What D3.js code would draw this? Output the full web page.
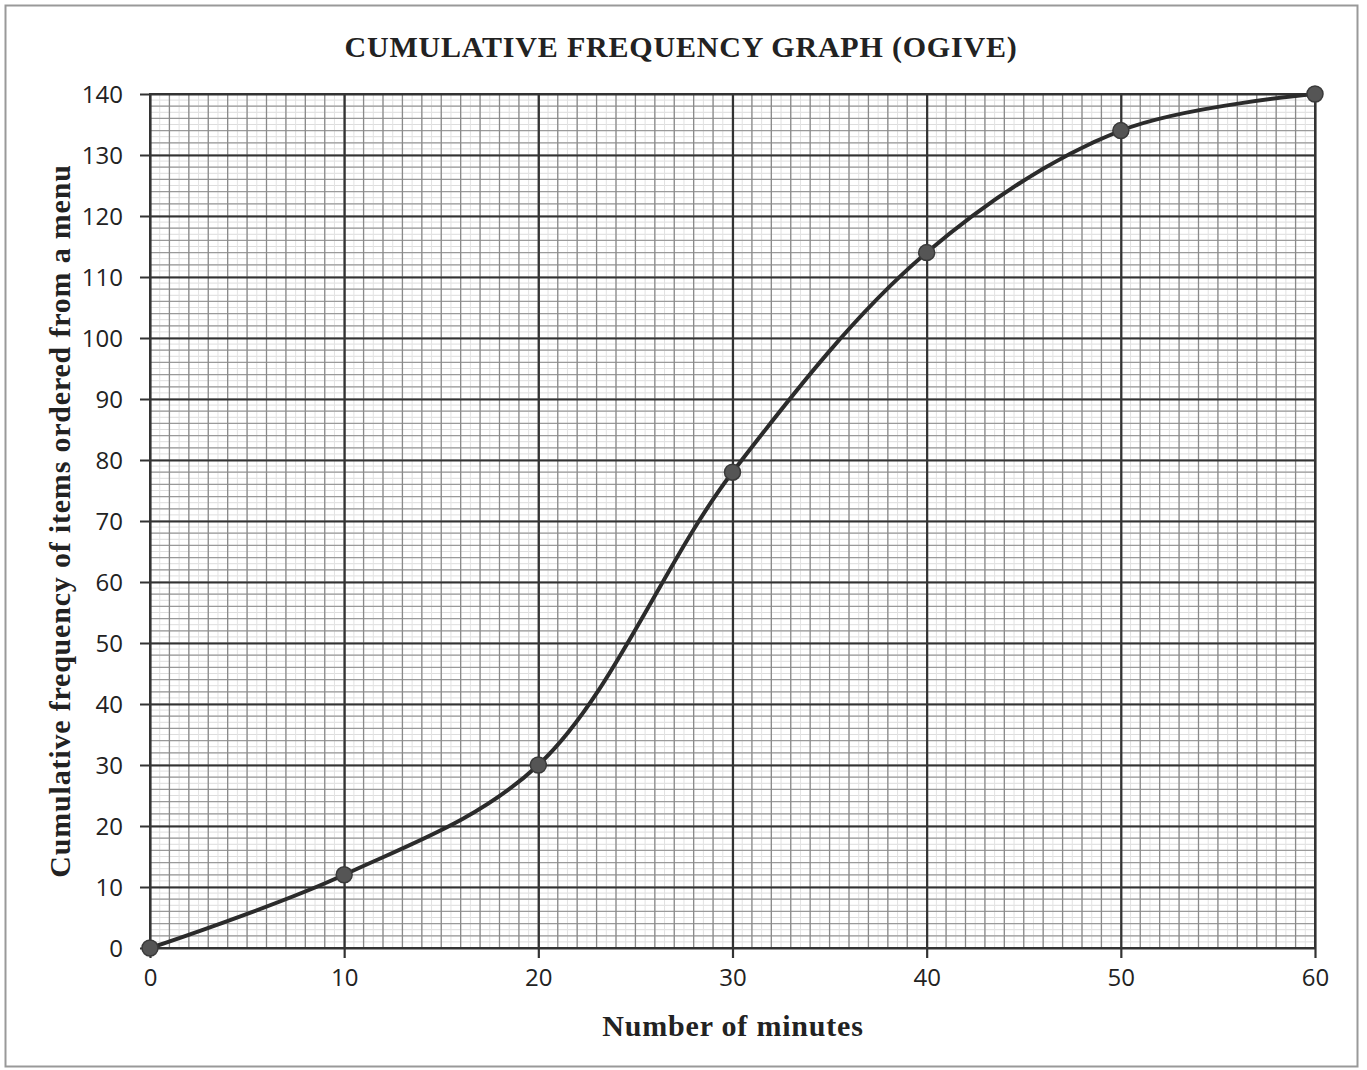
<!DOCTYPE html>
<html>
<head>
<meta charset="utf-8">
<script src="https://cdn.jsdelivr.net/npm/d3@7"></script>
<style>
  body { margin: 0; background: #fff; }
  .tick text { font-family: "Open Sans", "Liberation Sans", sans-serif; font-size: 24px; fill: #222; }
  .axisTitle { font-family: "Liberation Serif", "DejaVu Serif", serif; font-weight: bold; font-size: 30px; letter-spacing: 0.8px; fill: #222; }
</style>
</head>
<body>
<svg id="chart"></svg>
<script>
var minutes = [0, 10, 20, 30, 40, 50, 60];
var cumFreq = [0, 12, 30, 78, 114, 134, 140];
var xTicks = [0, 10, 20, 30, 40, 50, 60];
var yTicks = [0, 10, 20, 30, 40, 50, 60, 70, 80, 90, 100, 110, 120, 130, 140];

var width = 1367, height = 1070;
var margin = {top: 94, right: 52, bottom: 122, left: 150};
var chartWidth = width - margin.left - margin.right;
var chartHeight = height - margin.top - margin.bottom;

var svg = d3.select("#chart").attr("width", width).attr("height", height);

// outer frame of the scanned page
svg.append("rect")
   .attr("x", 5.5).attr("y", 5.5)
   .attr("width", 1352).attr("height", 1061)
   .attr("fill", "none").attr("stroke", "#999").attr("stroke-width", 2);

var x = d3.scaleLinear().domain([0, 60]).range([0, chartWidth]);
var y = d3.scaleLinear().domain([0, 140]).range([chartHeight, 0]);

var chart = svg.append("g")
               .attr("transform", "translate(" + margin.left + "," + margin.top + ")");

// graph paper grid: faint, minor, major
var grid = chart.append("g");
grid.selectAll(".hf").data(d3.range(0, 141, 1)).enter().append("line")
    .attr("x1", 0).attr("x2", chartWidth)
    .attr("y1", function(d) { return y(d); }).attr("y2", function(d) { return y(d); })
    .attr("stroke", "#ddd").attr("stroke-width", 1);
grid.selectAll(".vf").data(d3.range(0, 60.1, 0.5)).enter().append("line")
    .attr("y1", 0).attr("y2", chartHeight)
    .attr("x1", function(d) { return x(d); }).attr("x2", function(d) { return x(d); })
    .attr("stroke", "#e2e2e2").attr("stroke-width", 1);
grid.selectAll(".hm").data(d3.range(0, 141, 2)).enter().append("line")
    .attr("x1", 0).attr("x2", chartWidth)
    .attr("y1", function(d) { return y(d); }).attr("y2", function(d) { return y(d); })
    .attr("stroke", "#9a9a9a").attr("stroke-width", 1.2);
grid.selectAll(".vm").data(d3.range(0, 61, 1)).enter().append("line")
    .attr("y1", 0).attr("y2", chartHeight)
    .attr("x1", function(d) { return x(d); }).attr("x2", function(d) { return x(d); })
    .attr("stroke", "#8a8a8a").attr("stroke-width", 1.3);

// axes with major grid lines
chart.append("g")
     .attr("transform", "translate(0," + chartHeight + ")")
     .call(d3.axisBottom(x).tickValues(xTicks).tickSize(-chartHeight).tickPadding(21))
     .call(function(g) {
       g.select(".domain").remove();
       g.selectAll(".tick line").attr("stroke", "#333").attr("stroke-width", 2.2).attr("y1", 10);
     });

chart.append("g")
     .call(d3.axisLeft(y).tickValues(yTicks).tickSize(-chartWidth).tickPadding(27))
     .call(function(g) {
       g.select(".domain").remove();
       g.selectAll(".tick line").attr("stroke", "#333").attr("stroke-width", 2.2).attr("x1", -10);
       g.selectAll(".tick text").attr("dy", "0.35em");
     });

chart.append("rect")
     .attr("width", chartWidth).attr("height", chartHeight)
     .attr("fill", "none").attr("stroke", "#333").attr("stroke-width", 2);

// ogive
var points = minutes.map(function(m, i) { return [m, cumFreq[i]]; });
var line = d3.line()
             .x(function(d) { return x(d[0]); })
             .y(function(d) { return y(d[1]); })
             .curve(d3.curveCatmullRom.alpha(0.5));

chart.append("path")
     .datum(points)
     .attr("d", line)
     .attr("fill", "none").attr("stroke", "#2b2b2b").attr("stroke-width", 4);

chart.selectAll(".pt").data(points).enter().append("circle")
     .attr("cx", function(d) { return x(d[0]); })
     .attr("cy", function(d) { return y(d[1]); })
     .attr("r", 8)
     .attr("fill", "#555").attr("stroke", "#3a3a3a").attr("stroke-width", 1.5);

// titles
svg.append("text").attr("class", "axisTitle")
   .attr("x", 681).attr("y", 57).attr("text-anchor", "middle")
   .text("CUMULATIVE FREQUENCY GRAPH (OGIVE)");

svg.append("text").attr("class", "axisTitle")
   .attr("x", 733).attr("y", 1036).attr("text-anchor", "middle")
   .text("Number of minutes");

svg.append("text").attr("class", "axisTitle")
   .attr("transform", "translate(70," + 521 + ") rotate(-90)")
   .attr("text-anchor", "middle")
   .text("Cumulative frequency of items ordered from a menu");
</script>
</body>
</html>
